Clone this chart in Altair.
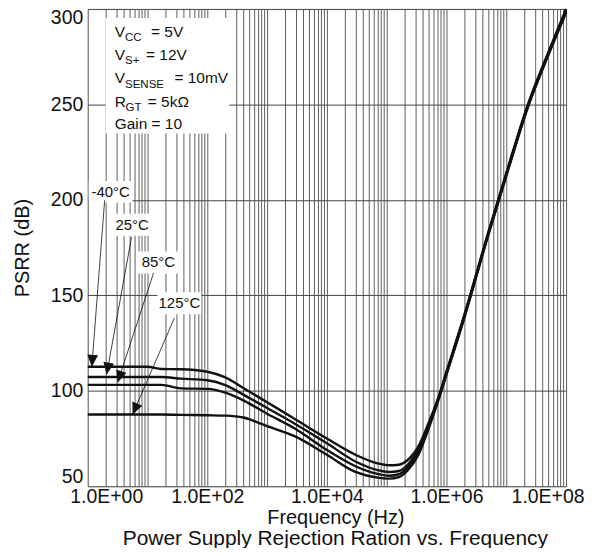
import math
import altair as alt
import pandas as pd

# ---------------- data ----------------
temps = ["-40°C", "25°C", "85°C", "125°C"]
freq_hz = [1, 10, 17, 36, 100, 200, 400, 1000, 3000, 1e4, 3e4, 7e4, 1.1e5, 1.6e5,
           2.2e5, 3.4e5, 5e5, 7.4e5, 1e6, 2e6, 5e6, 1e7, 2.3e7, 5e7, 1e8]
psrr_m40 = [112.6, 112.6, 111.4, 111.3, 110, 107, 101.5, 94, 85, 75, 66.5, 62, 61, 61.3,
            63.5, 71, 83, 97, 110, 140, 183, 214, 250, 277, 300]
psrr_25 = [107.2, 107.2, 107.2, 106.4, 105.5, 103, 98, 91, 82.5, 72.5, 63, 58.5, 57.5, 58,
           61, 69.5, 82, 96.5, 109.5, 139.5, 182.5, 213.5, 249.5, 276.5, 299]
psrr_85 = [103.1, 103.1, 103.1, 101.3, 101, 99, 95, 88, 80, 69, 60.5, 56.5, 55.5, 56.3,
           59.5, 68, 81, 96, 109, 139, 182, 213, 249, 276, 298.5]
psrr_125 = [87.6, 87.6, 87.6, 87.4, 87.2, 87, 86, 81.5, 76, 66.5, 57.5, 54.5, 54, 54.8,
            58, 66.5, 80, 95.5, 108.5, 138.5, 181.5, 212.5, 248.5, 275.5, 298]

# annotation anchors (frequency in Hz, PSRR in dB)
label_freq = [2.42, 5.52, 15.2, 34.1]
label_db = [204.2, 187.0, 167.2, 145.9]
arrow_start_freq = [1.92, 5.41, 12.6, 28.2]
arrow_start_db = [199.8, 180.5, 161.7, 138.2]
arrow_tip_freq = [1.17, 2.07, 3.16, 5.62]
arrow_tip_db = [112.6, 108.5, 104.3, 87.6]

y_ticks = [50, 100, 150, 200, 250, 300]
title_text = "Power Supply Rejection Ration vs. Frequency"

# ---------------- layout / style ----------------
FONT = "Liberation Sans"
INK = "#111111"
W, H = 480, 479
X_MIN, X_MAX = 1, 1e8
Y_MIN, Y_MAX = 50, 300
px_per_dec = W / (math.log10(X_MAX) - math.log10(X_MIN))
px_per_db = H / (Y_MAX - Y_MIN)

rows = []
for t, vals in zip(temps, [psrr_m40, psrr_25, psrr_85, psrr_125]):
    for f, v in zip(freq_hz, vals):
        rows.append({"temp": t, "freq": f, "psrr": v})
curves_df = pd.DataFrame(rows)

angles = []
for sf, sd, tf, td in zip(arrow_start_freq, arrow_start_db, arrow_tip_freq, arrow_tip_db):
    dx = (math.log10(tf) - math.log10(sf)) * px_per_dec
    dy = -(td - sd) * px_per_db
    angles.append(math.degrees(math.atan2(dx, -dy)) % 360)

ann_df = pd.DataFrame({
    "label": temps, "lf": label_freq, "ldb": label_db,
    "sf": arrow_start_freq, "sdb": arrow_start_db,
    "tf": arrow_tip_freq, "tdb": arrow_tip_db, "angle": angles,
})
dummy = pd.DataFrame({"a": [0]})

grid_vals = [k * 10.0 ** n for n in range(8) for k in range(1, 10)] + [1e8]
lab_expr = ("(abs(log(datum.value)/LN10 - round(log(datum.value)/LN10)) < 0.001 && "
            "round(log(datum.value)/LN10) % 2 == 0) ? '1.0E+0' + round(log(datum.value)/LN10) : ''")

xscale = alt.Scale(type="log", domain=[X_MIN, X_MAX], nice=False)
yscale = alt.Scale(domain=[Y_MIN, Y_MAX], nice=False, zero=False)

x_axis = alt.Axis(values=grid_vals, labelExpr=lab_expr, grid=True, gridColor="#5e5e5e",
                  gridWidth=1, ticks=False, domain=False, labelFlush=True,
                  labelFlushOffset=18, labelPadding=1, labelOverlap=False,
                  labelFont=FONT, labelFontSize=19.5, labelColor=INK,
                  title="Frequency (Hz)", titleFont=FONT, titleFontSize=20,
                  titleFontWeight="normal", titleColor=INK, titleX=248.5, titleY=37,
                  titleBaseline="alphabetic")
y_axis = alt.Axis(values=y_ticks, grid=True, gridColor="#444444", gridWidth=1,
                  ticks=False, domain=False, labelFlush=True, labelFlushOffset=0,
                  labelPadding=5, labelFont=FONT, labelFontSize=19.5, labelColor=INK,
                  title="PSRR (dB)", titleFont=FONT, titleFontSize=20,
                  titleFontWeight="normal", titleColor=INK, titleX=-55,
                  titleBaseline="bottom")

curves = alt.Chart(curves_df).mark_line(color=INK, strokeWidth=2.4, interpolate="monotone").encode(
    x=alt.X("freq:Q", scale=xscale, axis=x_axis),
    y=alt.Y("psrr:Q", scale=yscale, axis=y_axis),
    detail="temp:N",
)

# parameter box
param_box = alt.Chart(dummy).mark_rect(color="white").encode(
    x=alt.value(18), x2=alt.value(142), y=alt.value(9), y2=alt.value(125))

# (text, x, y, size) pieces; subscripts smaller and lowered
pieces = [
    ("V", 27, 28, 15.5), ("CC", 37.5, 32.5, 11.5), ("= 5V", 63.5, 28, 15.5),
    ("V", 27, 51, 15.5), ("S+", 37.5, 55.5, 11.5), ("= 12V", 58.5, 51, 15.5),
    ("V", 27, 74.5, 15.5), ("SENSE", 37.5, 79, 11.5), ("= 10mV", 87, 74.5, 15.5),
    ("R", 27, 98, 15.5), ("GT", 38, 102.5, 11.5), ("= 5kΩ", 60.3, 98, 15.5),
    ("Gain = 10", 27, 120.5, 15.5),
]
param_layers = [
    alt.Chart(dummy).mark_text(text=t, align="left", baseline="alphabetic", font=FONT,
                               fontSize=s, color=INK).encode(x=alt.value(x), y=alt.value(y))
    for (t, x, y, s) in pieces
]

label_boxes = alt.Chart(ann_df).mark_point(
    shape="M-1,-0.5H1V0.5H-1Z", filled=True, color="white", opacity=1, size=1936
).encode(x="lf:Q", y="ldb:Q")

arrows = alt.Chart(ann_df).mark_rule(color=INK, strokeWidth=0.8).encode(
    x="sf:Q", y="sdb:Q", x2="tf:Q", y2="tdb:Q")

heads = alt.Chart(ann_df).mark_point(
    shape="M0,0L0.9,2L-0.9,2Z", filled=True, color=INK, opacity=1, size=144
).encode(x="tf:Q", y="tdb:Q", angle=alt.Angle("angle:Q", scale=None))

labels = alt.Chart(ann_df).mark_text(font=FONT, fontSize=15, color=INK).encode(
    x="lf:Q", y="ldb:Q", text="label:N")

title = alt.Chart(dummy).mark_text(text=title_text, font=FONT, fontSize=21, color=INK,
                                   align="center", baseline="alphabetic").encode(
    x=alt.value(248.5), y=alt.value(537.5))

chart = alt.layer(
    curves, param_box, *param_layers, label_boxes, arrows, heads, labels, title
).properties(
    width=W, height=H,
    autosize=alt.AutoSizeParams(type="none"),
    padding={"left": 80, "top": 0, "right": 22, "bottom": 61},
).configure_view(stroke="#555555", strokeWidth=1).configure(background="white")

chart.save("out.html", embed_options={"renderer": "svg", "actions": False})
